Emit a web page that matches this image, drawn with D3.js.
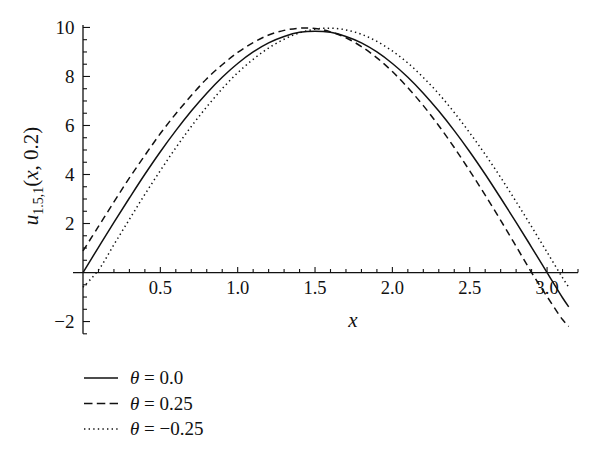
<!DOCTYPE html>
<html>
<head>
<meta charset="utf-8">
<script src="https://cdn.jsdelivr.net/npm/d3@7"></script>
<style>
  body { margin: 0; background: #fff; }
  text { font-family: "Liberation Serif", "DejaVu Serif", serif; fill: #111; }
</style>
</head>
<body>
<svg id="chart" width="600" height="456"></svg>
<script>
// ---- data ----
const xValues = [0, 0.1, 0.2, 0.3, 0.4, 0.5, 0.6, 0.7, 0.8, 0.9, 1.0, 1.1, 1.2, 1.3, 1.4, 1.5,
                 1.6, 1.7, 1.8, 1.9, 2.0, 2.1, 2.2, 2.3, 2.4, 2.5, 2.6, 2.7, 2.8, 2.9, 3.0, 3.1, 3.14];
const theta0 = [0, 1.03, 2.05, 3.04, 4.01, 4.93, 5.79, 6.59, 7.32, 7.97, 8.53, 9.00, 9.37, 9.63, 9.80, 9.85,
                9.80, 9.63, 9.37, 9.00, 8.53, 7.97, 7.32, 6.59, 5.79, 4.93, 4.01, 3.04, 2.05, 1.03, 0, -1.03, -1.40];
const thetaPos = [0.88, 1.88, 2.88, 3.86, 4.78, 5.67, 6.48, 7.22, 7.91, 8.48, 8.98, 9.38, 9.69, 9.88, 9.97, 9.96,
                  9.82, 9.58, 9.22, 8.76, 8.20, 7.54, 6.81, 5.99, 5.10, 4.15, 3.16, 2.13, 1.07, 0, -0.98, -1.92, -2.20];
const thetaNeg = [-0.60, 0.10, 1.14, 2.17, 3.19, 4.16, 5.09, 5.96, 6.76, 7.50, 8.15, 8.70, 9.16, 9.52, 9.78, 9.93,
                  9.97, 9.90, 9.72, 9.43, 9.04, 8.55, 7.96, 7.29, 6.53, 5.70, 4.82, 3.88, 2.89, 1.87, 0.83, -0.21, -0.60];
const seriesNames = ["θ = 0.0", "θ = 0.25", "θ = −0.25"];
const xTickLabels = [0.5, 1.0, 1.5, 2.0, 2.5, 3.0];
const yTickLabels = [-2, 2, 4, 6, 8, 10];

const series = [
  { name: seriesNames[0], values: theta0, dash: null },
  { name: seriesNames[1], values: thetaPos, dash: "7,4.5" },
  { name: seriesNames[2], values: thetaNeg, dash: "1.4,3.2" }
];

const svg = d3.select("#chart");
const x = d3.scaleLinear().domain([0, 3.2]).range([83, 578]);
const y = d3.scaleLinear().domain([-2.5, 10.1]).range([333.8, 25]);

// axes lines
svg.append("line").attr("x1", 73).attr("x2", x(3.2)).attr("y1", y(0)).attr("y2", y(0))
  .attr("stroke", "#111").attr("stroke-width", 1.3);
svg.append("line").attr("x1", x(0)).attr("x2", x(0)).attr("y1", y(-2.5)).attr("y2", y(10.1))
  .attr("stroke", "#111").attr("stroke-width", 1.3);

// x ticks (pointing up)
const xMinor = d3.range(1, 33).map(i => i / 10);
svg.append("g").selectAll("line").data(xMinor).join("line")
  .attr("x1", d => x(d)).attr("x2", d => x(d))
  .attr("y1", y(0))
  .attr("y2", d => y(0) - (Math.abs(d * 2 - Math.round(d * 2)) < 1e-6 ? 5.5 : 3.5))
  .attr("stroke", "#111").attr("stroke-width", 1.1);
svg.append("g").selectAll("text").data(xTickLabels).join("text")
  .attr("x", d => x(d)).attr("y", 294)
  .attr("text-anchor", "middle").attr("font-size", 18.5)
  .text(d => d.toFixed(1));

// y ticks (pointing right)
const yMinor = d3.range(-5, 21).map(i => i / 2).filter(d => d !== 0);
svg.append("g").selectAll("line").data(yMinor).join("line")
  .attr("x1", x(0))
  .attr("x2", d => x(0) + (d % 2 === 0 ? 7 : 4))
  .attr("y1", d => y(d)).attr("y2", d => y(d))
  .attr("stroke", "#111").attr("stroke-width", 1.1);
svg.append("g").selectAll("text").data(yTickLabels).join("text")
  .attr("x", 74.5).attr("y", d => y(d) + 6.3)
  .attr("text-anchor", "end").attr("font-size", 19)
  .text(d => d < 0 ? "−" + Math.abs(d) : d);

// curves
const line = d3.line()
  .x((d, i) => x(xValues[i]))
  .y(d => y(d))
  .curve(d3.curveCatmullRom);
svg.append("g").selectAll("path").data(series).join("path")
  .attr("d", d => line(d.values))
  .attr("fill", "none").attr("stroke", "#111").attr("stroke-width", 1.5)
  .attr("stroke-dasharray", d => d.dash);

// axis titles
const yt = svg.append("text")
  .attr("transform", "translate(38,176) rotate(-90)")
  .attr("text-anchor", "middle").attr("font-size", 21);
yt.append("tspan").attr("font-style", "italic").text("u");
yt.append("tspan").attr("font-size", 14).attr("dy", 5).text("1.5,1");
yt.append("tspan").attr("dy", -5).text("(");
yt.append("tspan").attr("font-style", "italic").text("x");
yt.append("tspan").text(", 0.2)");

svg.append("text").attr("x", 353).attr("y", 327)
  .attr("text-anchor", "middle").attr("font-size", 21).attr("font-style", "italic").text("x");

// legend
const legend = svg.append("g").selectAll("g").data(series).join("g")
  .attr("transform", (d, i) => `translate(84,${378 + i * 25.5})`);
legend.append("line").attr("x1", 0).attr("x2", 34).attr("y1", 0).attr("y2", 0)
  .attr("stroke", "#111").attr("stroke-width", 1.4)
  .attr("stroke-dasharray", d => d.dash === "7,4.5" ? "8.5,4.3" : d.dash);
const lt = legend.append("text").attr("x", 46).attr("y", 6.2).attr("font-size", 19);
lt.append("tspan").attr("font-style", "italic").text("θ");
lt.append("tspan").text(d => d.name.slice(1));
</script>
</body>
</html>
